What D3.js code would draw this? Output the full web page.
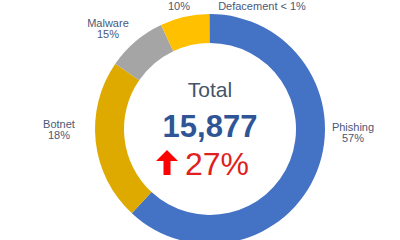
<!DOCTYPE html>
<html>
<head>
<meta charset="utf-8">
<script src="https://cdn.jsdelivr.net/npm/d3@7"></script>
<style>
  body { margin: 0; background: #fff; }
  svg { display: block; font-family: Arial, "Liberation Sans", sans-serif; }
</style>
</head>
<body>
<svg id="chart" width="400" height="240"></svg>
<script>
// slices, clockwise from 12 o'clock
const categories = ["Phishing", "Botnet", "Malware", "", "Defacement"];
const shares = [61.9, 22.7, 8.4, 6.9, 0.1];          // arc sizes as drawn
const shareLabels = ["57%", "18%", "15%", "10%", "< 1%"];
const colors = ["#4472C4", "#DEAA00", "#A5A5A5", "#FFC000", "#5B9BD5"];

const total = "15,877";
const change = "27%";

var svg = d3.select("#chart");
var cx = 210, cy = 129;
var outerR = 115, innerR = 86;

var pie = d3.pie().sort(null).value(function (d) { return d; });
var arc = d3.arc().innerRadius(innerR).outerRadius(outerR);

var g = svg.append("g").attr("transform", "translate(" + cx + "," + cy + ")");

g.selectAll("path")
    .data(pie(shares))
    .enter().append("path")
    .attr("d", arc)
    .attr("fill", function (d, i) { return colors[i]; });

// labels were placed by hand in the original, so keep that
var labelPos = [
    { x: 353, y: 131, oneLine: false },
    { x: 59,  y: 128, oneLine: false },
    { x: 108, y: 27,  oneLine: false },
    { x: 179, y: -1,  oneLine: false },
    { x: 262, y: 23,  oneLine: true }
];

categories.forEach(function (c, i) {
    var p = labelPos[i];
    var t = svg.append("text")
        .attr("text-anchor", "middle")
        .attr("font-size", 11)
        .attr("fill", "#4A5878");
    if (p.oneLine) {
        t.attr("x", p.x).attr("y", p.y - 13).text(c + " " + shareLabels[i]);
    } else {
        if (c) t.append("tspan").attr("x", p.x).attr("y", p.y).text(c);
        t.append("tspan").attr("x", p.x).attr("y", p.y + 11).text(shareLabels[i]);
    }
});

// centre block
svg.append("text")
    .attr("x", cx).attr("y", 97)
    .attr("text-anchor", "middle")
    .attr("font-size", 21)
    .attr("fill", "#44546A")
    .text("Total");

svg.append("text")
    .attr("x", cx).attr("y", 137)
    .attr("text-anchor", "middle")
    .attr("font-size", 31)
    .attr("font-weight", "bold")
    .attr("fill", "#2F5597")
    .text(total);

svg.append("text")
    .attr("x", 185).attr("y", 175)
    .attr("font-size", 32)
    .attr("fill", "#E01F1F")
    .text(change);

// up arrow
var ax = 167, aTop = 150, aBot = 175;
svg.append("path")
    .attr("d", "M" + ax + "," + aTop +
        "L" + (ax + 11) + "," + (aTop + 11) +
        "L" + (ax + 3.5) + "," + (aTop + 11) +
        "L" + (ax + 3.5) + "," + aBot +
        "L" + (ax - 3.5) + "," + aBot +
        "L" + (ax - 3.5) + "," + (aTop + 11) +
        "L" + (ax - 11) + "," + (aTop + 11) + "Z")
    .attr("fill", "#FF0000");
</script>
</body>
</html>
